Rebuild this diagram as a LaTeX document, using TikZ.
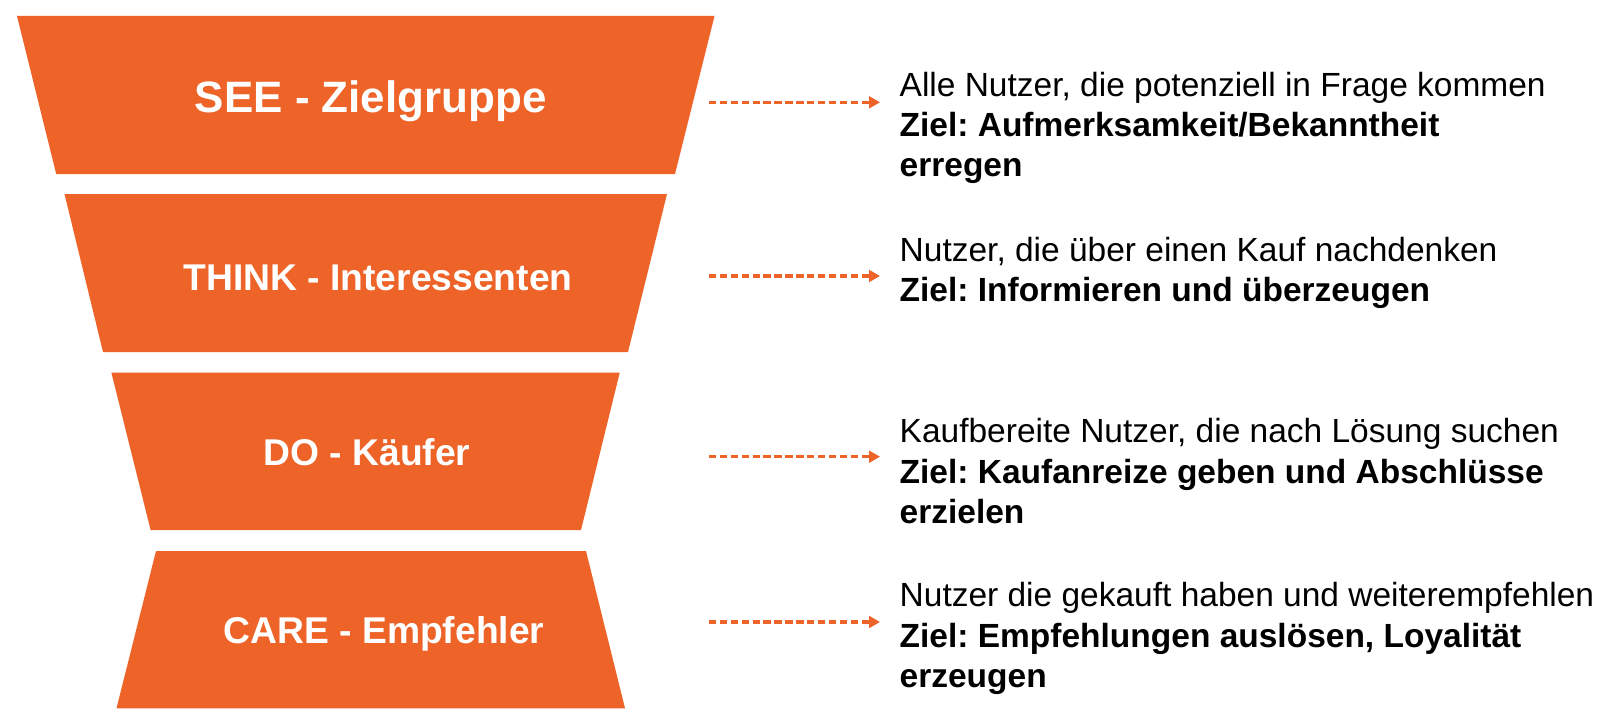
\documentclass[tikz,border=0pt]{standalone}
\usepackage{fontspec}
\setmainfont{Liberation Sans}
\usetikzlibrary{arrows.meta}
\frenchspacing

\definecolor{funnel}{RGB}{238,99,39}

\tikzset{
  stage/.style={fill=funnel},
  stagelabel/.style={text=white, anchor=base, inner sep=0pt,
    font=\bfseries\fontsize{10.6}{12}\selectfont},
  goal/.style={align=left, anchor=base west, inner xsep=5.4pt, inner ysep=0pt,
    font=\fontsize{9.53}{11.47}\selectfont},
  flow/.style={funnel, line width=0.95pt, dash pattern=on 2.1pt off 1pt,
    -{Triangle[length=3.1pt,width=3.3pt]}},
}

\begin{document}
\begin{tikzpicture}[x=1cm, y=-1cm]
\useasboundingbox (0,0) rectangle (16.15,7.22);
% funnel stages
\fill[stage] (0.17,0.16) -- (7.145,0.16) -- (6.75,1.74) -- (0.562,1.74) -- cycle;
\fill[stage] (0.645,1.94) -- (6.67,1.94) -- (6.28,3.52) -- (1.03,3.52) -- cycle;
\fill[stage] (1.114,3.727) -- (6.197,3.727) -- (5.81,5.30) -- (1.506,5.30) -- cycle;
\fill[stage] (1.56,5.51) -- (5.86,5.51) -- (6.25,7.083) -- (1.165,7.083) -- cycle;
% stage names
\node[stagelabel, font=\bfseries\fontsize{12.5}{14}\selectfont] (see) at (3.707,1.13) {SEE - Zielgruppe};
\node[stagelabel] (think) at (3.78,2.907) {THINK - Interessenten};
\node[stagelabel] (do) at (3.67,4.657) {DO - Käufer};
\node[stagelabel] (care) at (3.84,6.433) {CARE - Empfehler};
% descriptions (anchored at the last baseline)
\node[goal] (g1) at (8.8,1.767) {Alle Nutzer, die potenziell in Frage kommen\\
  \textbf{Ziel: Aufmerksamkeit/Bekanntheit}\\ \textbf{erregen}};
\node[goal] (g2) at (8.8,3.017) {Nutzer, die über einen Kauf nachdenken\\
  \textbf{Ziel: Informieren und überzeugen}};
\node[goal] (g3) at (8.8,5.235) {Kaufbereite Nutzer, die nach Lösung suchen\\
  \textbf{Ziel: Kaufanreize geben und Abschlüsse}\\ \textbf{erzielen}};
\node[goal] (g4) at (8.8,6.873) {Nutzer die gekauft haben und weiterempfehlen\\
  \textbf{Ziel: Empfehlungen auslösen, Loyalität}\\ \textbf{erzeugen}};
% dashed arrows
\foreach \i/\y in {1/1.023, 2/2.76, 3/4.567, 4/6.22} {
  \coordinate (s\i) at (7.09,\y);
  \draw[flow] (s\i) -- (s\i -| g\i.west);
}
\end{tikzpicture}
\end{document}
